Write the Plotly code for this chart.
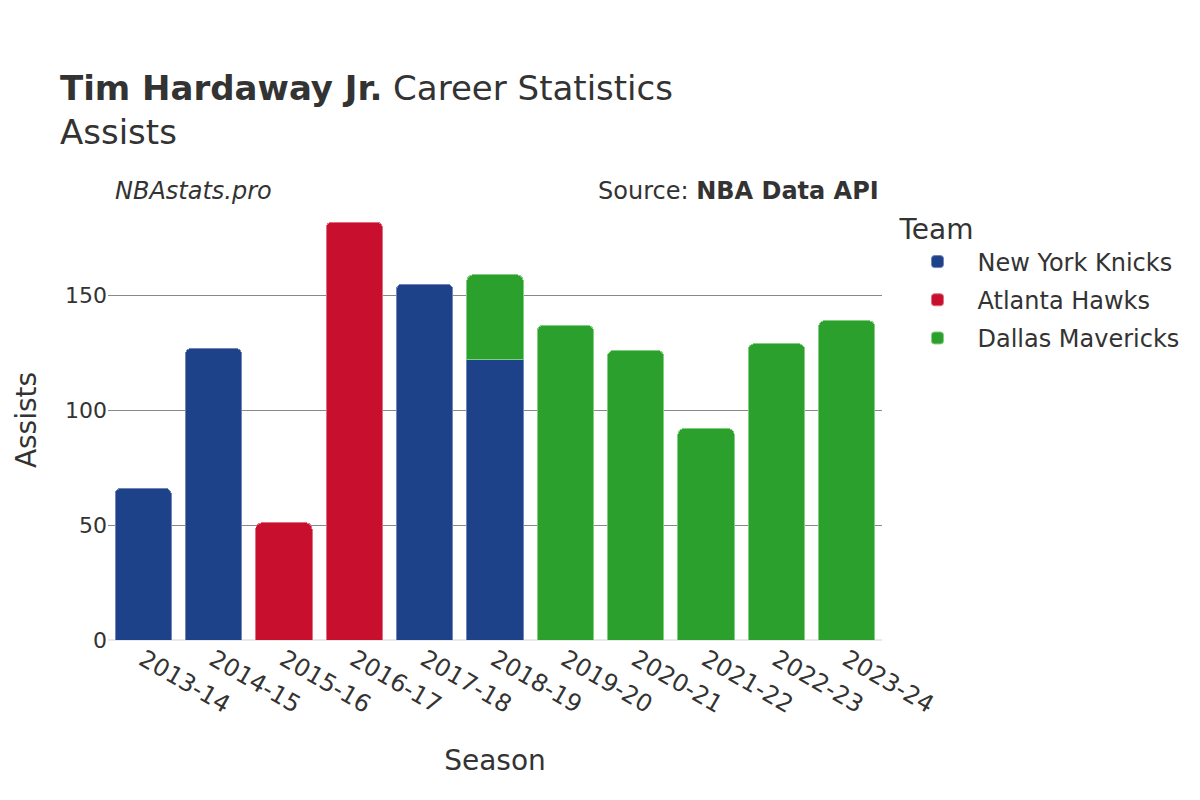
import plotly.graph_objects as go

seasons = ["2013-14", "2014-15", "2015-16", "2016-17", "2017-18", "2018-19",
           "2019-20", "2020-21", "2021-22", "2022-23", "2023-24"]

knicks_seasons = ["2013-14", "2014-15", "2017-18", "2018-19"]
knicks_assists = [66, 127, 155, 122]

hawks_seasons = ["2015-16", "2016-17"]
hawks_assists = [51, 182]

mavs_seasons = ["2018-19", "2019-20", "2020-21", "2021-22", "2022-23", "2023-24"]
mavs_assists = [37, 137, 126, 92, 129, 139]

teams = [
    ("New York Knicks", knicks_seasons, knicks_assists, "#1D428A", "#6E86B8"),
    ("Atlanta Hawks", hawks_seasons, hawks_assists, "#C8102E", "#E07080"),
    ("Dallas Mavericks", mavs_seasons, mavs_assists, "#2CA02C", "#80D080"),
]

font_family = "DejaVu Sans"
fig = go.Figure()
for name, xs, ys, color, edge in teams:
    fig.add_trace(go.Bar(
        x=xs, y=ys, name=name, legendgroup=name,
        marker=dict(color=color, line=dict(color=edge, width=1)),
    ))

fig.update_layout(
    width=1200, height=800,
    barmode="stack",
    bargap=0.2,
    barcornerradius=6,
    plot_bgcolor="white",
    paper_bgcolor="white",
    font=dict(family=font_family, color="#333333", size=22),
    title=dict(
        text="<b>Tim Hardaway Jr.</b> Career Statistics<br>Assists",
        x=0.0433, xanchor="left", y=0.885, yanchor="top",
        font=dict(size=34, color="#333333", family=font_family),
    ),
    margin=dict(l=100, r=326, t=192, b=168),
    legend=dict(
        title=dict(text="Team", font=dict(size=28)),
        font=dict(size=24),
        traceorder="grouped",
        tracegroupgap=4,
        x=1.02, xanchor="left", y=0.993, yanchor="top",
        itemwidth=70,
    ),
    xaxis=dict(
        title=dict(text="Season", font=dict(size=28), standoff=32),
        categoryorder="array", categoryarray=seasons,
        tickangle=30,
        tickfont=dict(size=24),
        showgrid=False,
        automargin=False,
    ),
    yaxis=dict(
        title=dict(text="Assists", font=dict(size=28), standoff=20),
        tickfont=dict(size=22),
        showgrid=True, gridcolor="#888888", gridwidth=1,
        zeroline=True, zerolinecolor="#E8E8E8", zerolinewidth=2,
        tickvals=[0, 50, 100, 150],
        automargin=False,
    ),
    annotations=[
        dict(text="<i>NBAstats.pro</i>", xref="paper", yref="paper",
             x=0.006, y=1.02, xanchor="left", yanchor="middle",
             showarrow=False, font=dict(size=24, color="#333333")),
        dict(text="Source: <b>NBA Data API</b>", xref="paper", yref="paper",
             x=0.999, y=1.02, xanchor="right", yanchor="middle",
             showarrow=False, font=dict(size=24, color="#333333")),
    ],
)

fig.write_html("out.html")
